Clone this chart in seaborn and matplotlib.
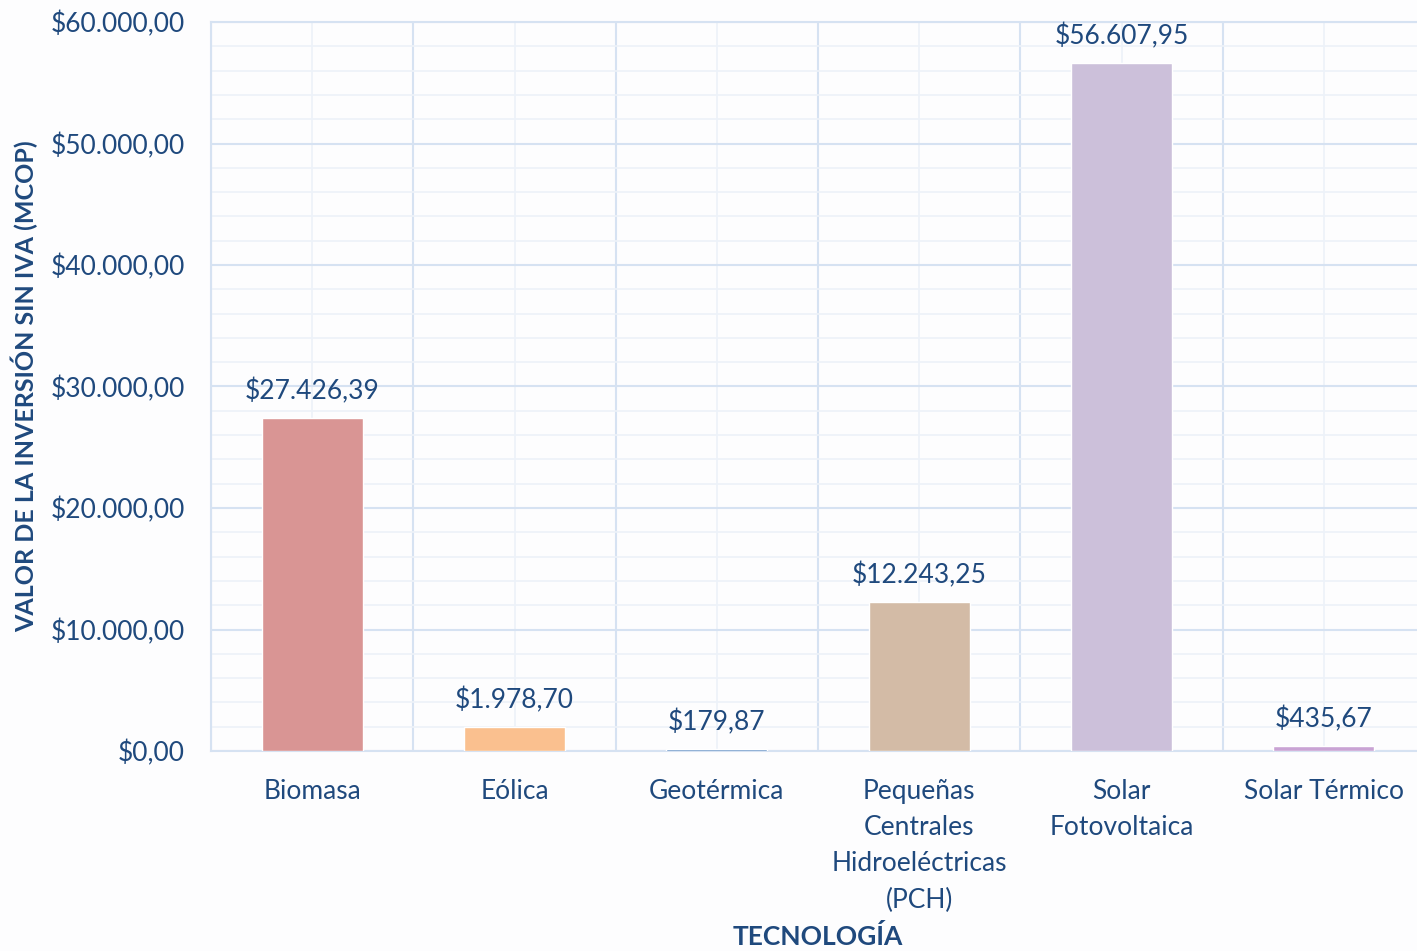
import seaborn as sns
import pandas as pd
import matplotlib.pyplot as plt
from matplotlib.ticker import MultipleLocator, FuncFormatter

# datos
tecnologias = ["Biomasa", "Eólica", "Geotérmica",
               "Pequeñas\nCentrales\nHidroeléctricas\n(PCH)",
               "Solar\nFotovoltaica", "Solar Térmico"]
valores = [27426.39, 1978.70, 179.87, 12243.25, 56607.95, 435.67]
colores = ["#D99594", "#FAC08F", "#4F81BD", "#D3BBA6", "#CCC0DA", "#C9A3D4"]

df = pd.DataFrame({"tecnologia": tecnologias, "valor": valores})

sns.set_style("white")
plt.rcParams['font.family'] = ['Lato', 'DejaVu Sans']
azul = "#1F497D"
fs = 19


def pesos(v, pos=None):
    s = f"{v:,.2f}".replace(",", "X").replace(".", ",").replace("X", ".")
    return "$" + s


fig = plt.figure(figsize=(14.17, 9.51), dpi=100)
fig.patch.set_facecolor("#FDFDFE")
ax = fig.add_axes([211 / 1417, 200 / 951, 1214 / 1417, 729 / 951])
ax.set_facecolor("#FDFDFE")

sns.barplot(data=df, x="tecnologia", y="valor", hue="tecnologia",
            palette=colores, legend=False, width=0.5, saturation=1,
            zorder=3, ax=ax)

for cont in ax.containers:
    ax.bar_label(cont, labels=[pesos(b.get_height()) for b in cont],
                 padding=10, color=azul, fontsize=fs)

ax.set_ylim(0, 60000)
ax.set_xlim(-0.5, 5.5)
ax.yaxis.set_major_locator(MultipleLocator(10000))
ax.yaxis.set_minor_locator(MultipleLocator(2000))
ax.yaxis.set_major_formatter(FuncFormatter(pesos))
ax.set_xticks(range(6))
ax.set_xticks([i - 0.5 for i in range(7)], minor=True)

ax.grid(which="major", axis="y", color="#D6E2F2", linewidth=1.5)
ax.grid(which="minor", axis="y", color="#EDF2F9", linewidth=1.2)
ax.grid(which="minor", axis="x", color="#D6E2F2", linewidth=1.5)
ax.grid(which="major", axis="x", color="#EDF2F9", linewidth=1.2)
ax.set_axisbelow(True)

for s in ax.spines.values():
    s.set_color("#D6E2F2")
    s.set_linewidth(1.5)

ax.tick_params(axis="both", which="both", length=0, labelsize=fs,
               labelcolor=azul)
ax.tick_params(axis="x", pad=20)
ax.tick_params(axis="y", pad=19)
for t in ax.get_xticklabels():
    t.set_linespacing(1.56)

ax.set_xlabel("TECNOLOGÍA", fontsize=fs, fontweight="bold", color=azul)
ax.set_ylabel("VALOR DE LA INVERSIÓN SIN IVA (MCOP)", fontsize=18,
              fontweight="bold", color=azul)
ax.xaxis.set_label_coords((818 - 211) / 1214, -(924 - 751) / 729)
ax.yaxis.set_label_coords(-(211 - 38) / 1214, (751 - 386) / 729)

fig.savefig("out.png", dpi=100, facecolor=fig.get_facecolor())
